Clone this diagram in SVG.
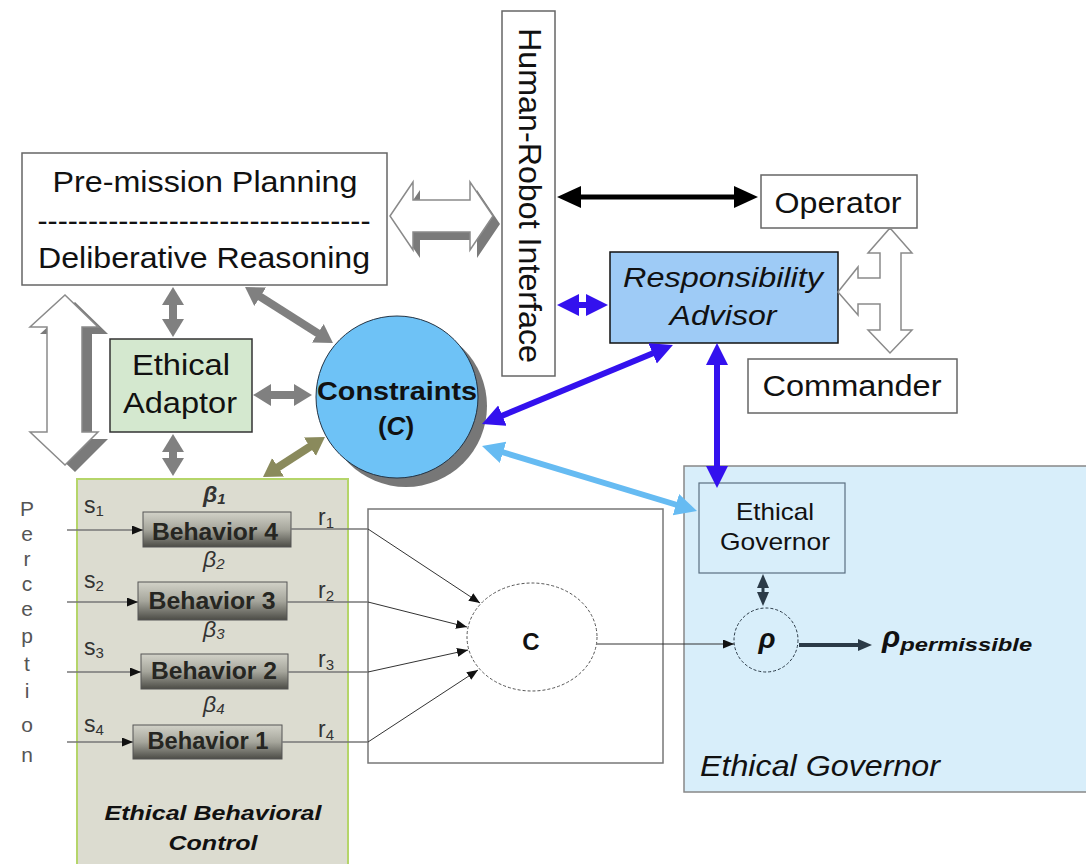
<svg xmlns="http://www.w3.org/2000/svg" width="1086" height="864" viewBox="0 0 1086 864">
<style>
text{font-family:"Liberation Sans",Arial,sans-serif;fill:#111}
.box{fill:#fff;stroke:#666;stroke-width:1.5}
.t30{font-size:30px}
.it{font-style:italic}
.bd{font-weight:bold}
.beh{fill:url(#behGrad);stroke:#555;stroke-width:1}
.btxt{font-size:23px;font-weight:bold;fill:#262622}
.lab{font-size:23px;fill:#333}
.sub{font-size:15px}
.perc{font-size:21px;fill:#555;text-anchor:middle}
.gray{stroke:#808080;stroke-width:8;fill:none;marker-start:url(#mGray);marker-end:url(#mGray)}
.olive{stroke:#8a8a5c;stroke-width:8;fill:none;marker-start:url(#mOlive);marker-end:url(#mOlive)}
.blue{stroke:#3311ee;stroke-width:6;fill:none;marker-start:url(#mBlue);marker-end:url(#mBlue)}
.lblue{stroke:#66bbf2;stroke-width:6;fill:none;marker-start:url(#mLBlue);marker-end:url(#mLBlue)}
.thin{stroke:#333;stroke-width:1;fill:none;marker-end:url(#mSmall)}
.feed{stroke:#777;stroke-width:1.5;fill:none}
.hollow{fill:#fff;stroke:#8a8a8a;stroke-width:1.5}
.shadow{fill:#7a7a7a}
</style>
<defs>
<linearGradient id="behGrad" x1="0" y1="0" x2="0" y2="1">
<stop offset="0" stop-color="#d2d2c8"/>
<stop offset="0.5" stop-color="#a6a69c"/>
<stop offset="1" stop-color="#4c4c46"/>
</linearGradient>
<marker id="mGray" markerUnits="userSpaceOnUse" markerWidth="20" markerHeight="24" refX="3" refY="11" orient="auto-start-reverse"><path d="M0,0 L18,11 L0,22 z" fill="#808080"/></marker>
<marker id="mOlive" markerUnits="userSpaceOnUse" markerWidth="20" markerHeight="24" refX="3" refY="11" orient="auto-start-reverse"><path d="M0,0 L18,11 L0,22 z" fill="#8a8a5c"/></marker>
<marker id="mBlue" markerUnits="userSpaceOnUse" markerWidth="24" markerHeight="24" refX="3" refY="11" orient="auto-start-reverse"><path d="M0,0 L22,11 L0,22 z" fill="#3311ee"/></marker>
<marker id="mLBlue" markerUnits="userSpaceOnUse" markerWidth="24" markerHeight="24" refX="3" refY="11" orient="auto-start-reverse"><path d="M0,0 L22,11 L0,22 z" fill="#66bbf2"/></marker>
<marker id="mBlack" markerUnits="userSpaceOnUse" markerWidth="26" markerHeight="24" refX="3" refY="11" orient="auto-start-reverse"><path d="M0,0 L24,11 L0,22 z" fill="#000"/></marker>
<marker id="mSmall" markerUnits="userSpaceOnUse" markerWidth="12" markerHeight="10" refX="11" refY="4.5" orient="auto"><path d="M0,0 L11,4.5 L0,9 z" fill="#111"/></marker>
<marker id="mDark" markerUnits="userSpaceOnUse" markerWidth="16" markerHeight="14" refX="2" refY="6" orient="auto-start-reverse"><path d="M0,0 L14,6 L0,12 z" fill="#2b3a47"/></marker>
</defs>

<rect width="1086" height="864" fill="#fff"/>

<!-- Ethical Governor region -->
<g id="ethical-governor-region">
<rect x="684" y="466" width="410" height="326" fill="#d8eefa" stroke="#888" stroke-width="1.5"/>
<text x="700" y="776" class="t30 it" textLength="240" lengthAdjust="spacingAndGlyphs">Ethical Governor</text>
</g>

<!-- Ethical Behavioral Control region -->
<g id="ethical-behavioral-control">
<rect x="77" y="479" width="271" height="392" fill="#dcdcd0" stroke="#b5d56a" stroke-width="2"/>
<text x="213" y="820" font-size="21" class="bd it" text-anchor="middle" textLength="217" lengthAdjust="spacingAndGlyphs">Ethical Behavioral</text>
<text x="213" y="850" font-size="21" class="bd it" text-anchor="middle" textLength="89" lengthAdjust="spacingAndGlyphs">Control</text>
</g>

<!-- Pre-mission planning -->
<g id="pre-mission">
<rect x="22" y="153" width="365" height="132" class="box"/>
<text x="205" y="192" class="t30" text-anchor="middle" textLength="305" lengthAdjust="spacingAndGlyphs">Pre-mission Planning</text>
<text x="204" y="231" class="t30" text-anchor="middle" textLength="333" lengthAdjust="spacingAndGlyphs">---------------------------------</text>
<text x="204" y="268" class="t30" text-anchor="middle" textLength="332" lengthAdjust="spacingAndGlyphs">Deliberative Reasoning</text>
</g>

<!-- Human-Robot Interface -->
<g id="human-robot-interface">
<rect x="502" y="11" width="53" height="365" class="box"/>
<text transform="translate(519,28) rotate(90)" x="0" y="0" font-size="31" textLength="335" lengthAdjust="spacingAndGlyphs">Human-Robot Interface</text>
</g>

<!-- Operator -->
<g id="operator">
<rect x="761" y="175" width="156" height="53" class="box"/>
<text x="838" y="213" class="t30" text-anchor="middle" textLength="127" lengthAdjust="spacingAndGlyphs">Operator</text>
</g>

<!-- Commander -->
<g id="commander">
<rect x="748" y="359" width="209" height="54" class="box"/>
<text x="852" y="396" class="t30" text-anchor="middle" textLength="179" lengthAdjust="spacingAndGlyphs">Commander</text>
</g>

<!-- Responsibility Advisor -->
<g id="responsibility-advisor">
<rect x="610" y="252" width="228" height="91" fill="#9ecbf6" stroke="#111" stroke-width="1.5"/>
<text x="723" y="287" font-size="28" class="it" text-anchor="middle" textLength="200" lengthAdjust="spacingAndGlyphs">Responsibility</text>
<text x="723" y="325" font-size="28" class="it" text-anchor="middle" textLength="107" lengthAdjust="spacingAndGlyphs">Advisor</text>
</g>

<!-- Ethical Adaptor -->
<g id="ethical-adaptor">
<rect x="110" y="339" width="142" height="93" fill="#d4e8cf" stroke="#333" stroke-width="1.5"/>
<text x="181" y="375" class="t30" text-anchor="middle" textLength="98" lengthAdjust="spacingAndGlyphs">Ethical</text>
<text x="180" y="413" class="t30" text-anchor="middle" textLength="114" lengthAdjust="spacingAndGlyphs">Adaptor</text>
</g>

<!-- Constraints -->
<g id="constraints">
<circle cx="406" cy="406" r="81" fill="#777"/>
<circle cx="397" cy="397" r="81" fill="#6ec2f6" stroke="#234" stroke-width="1"/>
<text x="397" y="400" font-size="26" class="bd" text-anchor="middle" textLength="160" lengthAdjust="spacingAndGlyphs">Constraints</text>
<text x="396" y="435" font-size="26" class="bd" text-anchor="middle">(<tspan class="it">C</tspan>)</text>
</g>

<!-- Behaviors -->
<g id="behavior-4">
<rect x="143" y="512" width="148" height="35" class="beh"/>
<text x="215" y="540" class="btxt" text-anchor="middle" textLength="126" lengthAdjust="spacingAndGlyphs">Behavior 4</text>
</g>
<g id="behavior-3">
<rect x="138" y="582" width="149" height="38" class="beh"/>
<text x="212" y="609" class="btxt" text-anchor="middle" textLength="127" lengthAdjust="spacingAndGlyphs">Behavior 3</text>
</g>
<g id="behavior-2">
<rect x="141" y="654" width="147" height="35" class="beh"/>
<text x="214" y="679" class="btxt" text-anchor="middle" textLength="126" lengthAdjust="spacingAndGlyphs">Behavior 2</text>
</g>
<g id="behavior-1">
<rect x="133" y="725" width="149" height="34" class="beh"/>
<text x="208" y="749" class="btxt" text-anchor="middle" textLength="121" lengthAdjust="spacingAndGlyphs">Behavior 1</text>
</g>

<!-- labels s, r, beta -->
<g id="behavior-labels">
<text x="84" y="513" class="lab">s<tspan class="sub" dy="3">1</tspan></text>
<text x="84" y="588" class="lab">s<tspan class="sub" dy="3">2</tspan></text>
<text x="84" y="655" class="lab">s<tspan class="sub" dy="3">3</tspan></text>
<text x="84" y="732" class="lab">s<tspan class="sub" dy="3">4</tspan></text>
<text x="318" y="525" class="lab">r<tspan class="sub" dy="3">1</tspan></text>
<text x="318" y="598" class="lab">r<tspan class="sub" dy="3">2</tspan></text>
<text x="318" y="667" class="lab">r<tspan class="sub" dy="3">3</tspan></text>
<text x="318" y="737" class="lab">r<tspan class="sub" dy="3">4</tspan></text>
<text x="203" y="502" class="lab it bd">β<tspan class="sub" dy="2">1</tspan></text>
<text x="203" y="567" class="lab it">β<tspan class="sub" dy="2">2</tspan></text>
<text x="203" y="637" class="lab it">β<tspan class="sub" dy="2">3</tspan></text>
<text x="203" y="712" class="lab it">β<tspan class="sub" dy="2">4</tspan></text>
</g>

<!-- Perception -->
<g id="perception">
<text x="27" y="516" class="perc">P</text>
<text x="27" y="541" class="perc">e</text>
<text x="27" y="566" class="perc">r</text>
<text x="27" y="591" class="perc">c</text>
<text x="27" y="616" class="perc">e</text>
<text x="27" y="643" class="perc">p</text>
<text x="27" y="671" class="perc">t</text>
<text x="27" y="698" class="perc">i</text>
<text x="27" y="732" class="perc">o</text>
<text x="27" y="762" class="perc">n</text>
</g>

<!-- Coordination box C -->
<g id="coordination">
<rect x="368" y="509" width="295" height="254" fill="#fff" stroke="#777" stroke-width="1.5"/>
<ellipse cx="532" cy="637" rx="65" ry="54" fill="#fff" stroke="#555" stroke-width="1" stroke-dasharray="3,2"/>
<text x="531" y="650" font-size="24" class="bd" text-anchor="middle">C</text>
</g>

<!-- Inner Ethical Governor -->
<g id="ethical-governor">
<rect x="699" y="483" width="146" height="90" fill="#d8eefa" stroke="#5a6f80" stroke-width="1.2"/>
<text x="775" y="520" font-size="24" text-anchor="middle" fill="#222" textLength="78" lengthAdjust="spacingAndGlyphs">Ethical</text>
<text x="775" y="550" font-size="24" text-anchor="middle" fill="#222" textLength="110" lengthAdjust="spacingAndGlyphs">Governor</text>
</g>

<!-- rho -->
<g id="rho">
<circle cx="766" cy="640" r="32" fill="none" stroke="#2b3a47" stroke-width="1" stroke-dasharray="3,2"/>
<text x="767" y="648" font-size="28" class="bd it" text-anchor="middle" fill="#2b3a47">ρ</text>
</g>
<g id="rho-permissible">
<text x="882" y="647" font-size="30" class="bd it" fill="#2b3a47">ρ<tspan font-size="19" dy="4" textLength="132" lengthAdjust="spacingAndGlyphs">permissible</tspan></text>
</g>

<!-- Connectors -->
<g id="connectors">
<!-- hollow arrows -->
<polygon class="shadow" points="397,224 420,190 420,208 477,208 477,190 500,224 477,258 477,240 420,240 420,258"/>
<polygon class="hollow" points="390,216 413,182 413,200 470,200 470,182 493,216 470,250 470,232 413,232 413,250"/>
<polygon class="shadow" points="75,302 108,334 92,334 92,439 108,439 75,472 40,439 57,439 57,334 40,334"/>
<polygon class="hollow" points="65,295 98,327 82,327 82,432 98,432 65,465 30,432 47,432 47,327 30,327"/>
<polygon class="hollow" points="890,228 912,253 901,253 901,330 912,330 890,353 868,330 880,330 880,304 858,304 858,315 838,292 858,267 858,278 880,278 880,253 868,253"/>
<!-- gray arrows -->
<line x1="173" y1="302" x2="173" y2="322" class="gray"/>
<line x1="173" y1="449" x2="173" y2="461" class="gray"/>
<line x1="268" y1="395" x2="297" y2="395" class="gray"/>
<line x1="257.7" y1="295.1" x2="320.3" y2="334.9" class="gray"/>
<line x1="275.6" y1="468.9" x2="312.4" y2="445.1" class="olive"/>
<!-- black -->
<line x1="578" y1="197" x2="737" y2="197" stroke="#000" stroke-width="5" marker-start="url(#mBlack)" marker-end="url(#mBlack)"/>
<!-- blue -->
<line x1="576" y1="305" x2="589" y2="305" class="blue"/>
<line x1="499.6" y1="416.7" x2="655.4" y2="352.3" class="blue"/>
<line x1="717" y1="362" x2="717" y2="469" class="blue"/>
<line x1="500.2" y1="451.5" x2="678.8" y2="505.5" class="lblue"/>
<!-- perception inputs -->
<line x1="67" y1="530" x2="143" y2="530" class="feed" marker-end="url(#mSmall)"/>
<line x1="67" y1="602" x2="138" y2="602" class="feed" marker-end="url(#mSmall)"/>
<line x1="67" y1="672" x2="141" y2="672" class="feed" marker-end="url(#mSmall)"/>
<line x1="67" y1="742" x2="133" y2="742" class="feed" marker-end="url(#mSmall)"/>
<!-- behavior outputs -->
<line x1="291" y1="529" x2="368" y2="529" class="feed"/>
<line x1="287" y1="602" x2="368" y2="602" class="feed"/>
<line x1="288" y1="672" x2="368" y2="672" class="feed"/>
<line x1="282" y1="742" x2="368" y2="742" class="feed"/>
<!-- into C -->
<line x1="368" y1="529" x2="480" y2="603" class="thin"/>
<line x1="368" y1="602" x2="467" y2="627" class="thin"/>
<line x1="368" y1="672" x2="468" y2="650" class="thin"/>
<line x1="368" y1="742" x2="478" y2="670" class="thin"/>
<!-- C to rho -->
<line x1="597" y1="644" x2="734" y2="644" stroke="#333" stroke-width="1" marker-end="url(#mSmall)"/>
<!-- governor to rho -->
<line x1="763" y1="586" x2="763" y2="594" stroke="#2b3a47" stroke-width="3" marker-start="url(#mDark)" marker-end="url(#mDark)"/>
<!-- rho to permissible -->
<line x1="799" y1="645" x2="860" y2="645" stroke="#2b3a47" stroke-width="4" marker-end="url(#mDark)"/>
</g>
</svg>
